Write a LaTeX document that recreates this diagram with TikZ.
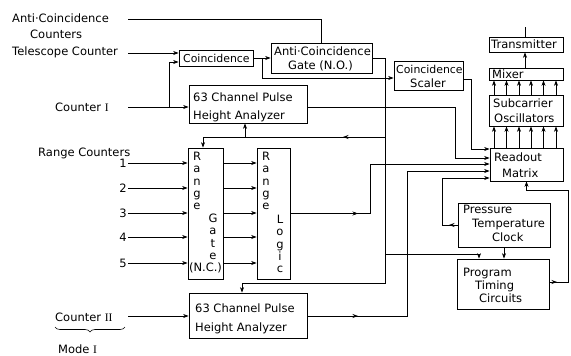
\documentclass[tikz,border=0pt]{standalone}
\usepackage{fontspec}
\setmainfont{DejaVu Sans}
\newfontfamily\romfont{Liberation Serif}
\usetikzlibrary{arrows.meta,decorations.pathreplacing}
\begin{document}
\begin{tikzpicture}[x=1pt,y=-1pt,
  box/.style={draw,line width=0.8pt,inner sep=0pt},
  txt/.style={inner sep=0pt,anchor=base west,font=\fontsize{11.5}{14}\selectfont},
  stxt/.style={inner sep=0pt,anchor=base west,font=\fontsize{10.9}{14}\selectfont},
  num/.style={inner sep=0pt,anchor=base east,font=\fontsize{11.5}{14}\selectfont},
  vtxt/.style={inner sep=0pt,align=center,font=\fontsize{11.5}{12.4}\selectfont},
  conn/.style={line width=0.6pt},
  >={Stealth[length=5.5pt,width=4pt]}]
\useasboundingbox (0,0) rectangle (571,356);

% boxes
\node[box,minimum width=74pt,minimum height=16pt] (coinc) at (216,58) {};
\node[box,minimum width=101pt,minimum height=30pt] (acg) at (321.5,58) {};
\node[box,minimum width=69pt,minimum height=29pt] (scaler) at (428.5,75.5) {};
\node[box,minimum width=74pt,minimum height=15pt] (trans) at (526,44.5) {};
\node[box,minimum width=74pt,minimum height=12pt] (mixer) at (526,74) {};
\node[box,minimum width=74pt,minimum height=31pt] (subc) at (526,110.5) {};
\node[box,minimum width=73pt,minimum height=33pt] (readout) at (526.5,164.5) {};
\node[box,minimum width=92pt,minimum height=44pt] (ptc) at (504,225) {};
\node[box,minimum width=92pt,minimum height=50pt] (prog) at (503,284) {};
\node[box,minimum width=118pt,minimum height=38pt] (pha1) at (248,104) {};
\node[box,minimum width=35pt,minimum height=131pt] (rgate) at (205.5,213.5) {};
\node[box,minimum width=33pt,minimum height=131pt] (rlogic) at (273.5,213.5) {};
\node[box,minimum width=118pt,minimum height=45pt] (pha2) at (248,315.5) {};

% box texts
\node[stxt] (tcoinc) at (183,62) {Coincidence};
\node[txt] (tacg1) at (274,55) {Anti·Coincidence};
\node[txt] (tacg2) at (288,69) {Gate (N.O.)};
\node[stxt] (tsc1) at (396,73) {Coincidence};
\node[txt] (tsc2) at (410,87) {Scaler};
\node[txt] (ttrans) at (491,48) {Transmitter};
\node[txt] (tmix) at (492,78) {Mixer};
\node[txt] (tsub1) at (493,107) {Subcarrier};
\node[txt] (tsub2) at (494,122) {Oscillators};
\node[txt] (tro1) at (494,161) {Readout};
\node[txt] (tro2) at (502,177) {Matrix};
\node[txt] (tp1) at (463,213) {Pressure};
\node[txt] (tp2) at (472,227) {Temperature};
\node[txt] (tp3) at (492,241) {Clock};
\node[txt] (tg1) at (463,276) {Program};
\node[txt] (tg2) at (475,289) {Timing};
\node[txt] (tg3) at (479,302) {Circuits};
\node[txt] (th1) at (193,101) {63 Channel Pulse};
\node[txt] (th2) at (193,119) {Height Analyzer};
\node[txt] (tk1) at (195,312) {63 Channel Pulse};
\node[txt] (tk2) at (195,331) {Height Analyzer};
\node[vtxt] (rgR) at (197,181) {R\\a\\n\\g\\e};
\node[vtxt] (rgG) at (213,237) {G\\a\\t\\e};
\node[vtxt] (rgN) at (205.5,268) {(N.C.)};
\node[vtxt] (rlR) at (266,181) {R\\a\\n\\g\\e};
\node[vtxt] (rlL) at (280,244) {L\\o\\g\\i\\c};

% outside labels
\node[txt] (lac1) at (12,23) {Anti·Coincidence};
\node[txt] (lac2) at (30,38) {Counters};
\node[txt] (ltel) at (12,56) {Telescope Counter};
\node[txt] (lc1) at (55,111) {Counter {\romfont I}};
\node[txt] (lrc) at (38,156) {Range Counters};
\node[txt] (lc2) at (55,321) {Counter {\romfont II}};
\node[txt] (lmode) at (58,353) {Mode {\romfont I}};
\draw[conn,decorate,decoration={brace,mirror,amplitude=5pt}] (55,327) -- (125,327);

% inputs
\coordinate (acin) at (128,19);
\draw[conn] (acin) -| (acg.north);
\coordinate (telin) at (128,53);
\draw[conn,->] (telin) -- (telin -| coinc.west);
\coordinate (c1in) at (128,107);
\draw[conn,->] (c1in) -- (c1in -| pha1.west);
\coordinate (c1br) at (169,107);
\draw[conn,->] (c1br) |- (coinc.west |- 0,62);
\coordinate (c2in) at (128,316);
\draw[conn,->] (c2in) -- (c2in -| pha2.west);
\foreach \n/\y in {1/163,2/188,3/213,4/237,5/263}{
  \node[num] (n\n) at (127,\y+4.5) {\n};
  \coordinate (rin\n) at (128,\y);
  \draw[conn,->] (rin\n) -- (rin\n -| rgate.west);
  \draw[conn,->] (rgate.east |- rin\n) -- (rlogic.west |- rin\n);
}

% coincidence outputs
\draw[conn,->] (coinc.east) -- (acg.west);
\coordinate (cbr) at (262,58);
\draw[conn,->] (cbr) |- (scaler.west |- 0,78);

% anti-coincidence gate bus
\draw[conn,->] (acg.east) -| (385,283) -| (pha2.north -| 242,0);
\coordinate (j1) at (385,137);
\draw[conn,->] (j1) -| (rgate.north -| 203,0);
\draw[conn,->] (j1) -- (343,137);
\coordinate (j2) at (245,137);
\draw[conn,->] (j2) -- (pha1.south -| 245,0);
\coordinate (j3) at (385,254);
\draw[conn,->] (j3) -| (prog.north -| 479,0);

% into readout matrix
\draw[conn,->] (scaler.east |- 0,79) -| (471,149) -- (readout.west |- 0,149);
\draw[conn,->] (pha1.east |- 0,107) -| (455,158) -- (readout.west |- 0,158);
\draw[conn,->] (rlogic.east) -| (370,164) -- (readout.west |- 0,164);
\draw[conn,->] (rlogic.east) -- (358,213.5);
\draw[conn,->] (pha2.east |- 0,316) -| (407,171) -- (readout.west |- 0,171);
\draw[conn,->] (pha2.east |- 0,316) -- (358,316);
\draw[conn,->] (ptc.west) -| (442,178) -- (readout.west |- 0,178);
\draw[conn,->] (ptc.west) -- (449,225);
\draw[conn,->] (prog.east |- 0,282) -| (568,190) -| (readout.south);
\draw[conn,->] (prog.east |- 0,282) -- (557,282);
\draw[conn,->] (ptc.south) -- (ptc.south |- prog.north);

% readout -> subcarrier -> mixer -> transmitter
\foreach \x in {494,506.5,519,531,543.5,556}{
  \draw[conn,->] (readout.north -| \x,0) -- (subc.south -| \x,0);
  \draw[conn,->] (subc.north -| \x,0) -- (mixer.south -| \x,0);
}
\draw[conn,->] (mixer.north -| 525,0) -- (trans.south -| 525,0);
\coordinate (ant) at (525,27);
\draw[conn] (trans.north -| 525,0) -- (ant);
\end{tikzpicture}
\end{document}
